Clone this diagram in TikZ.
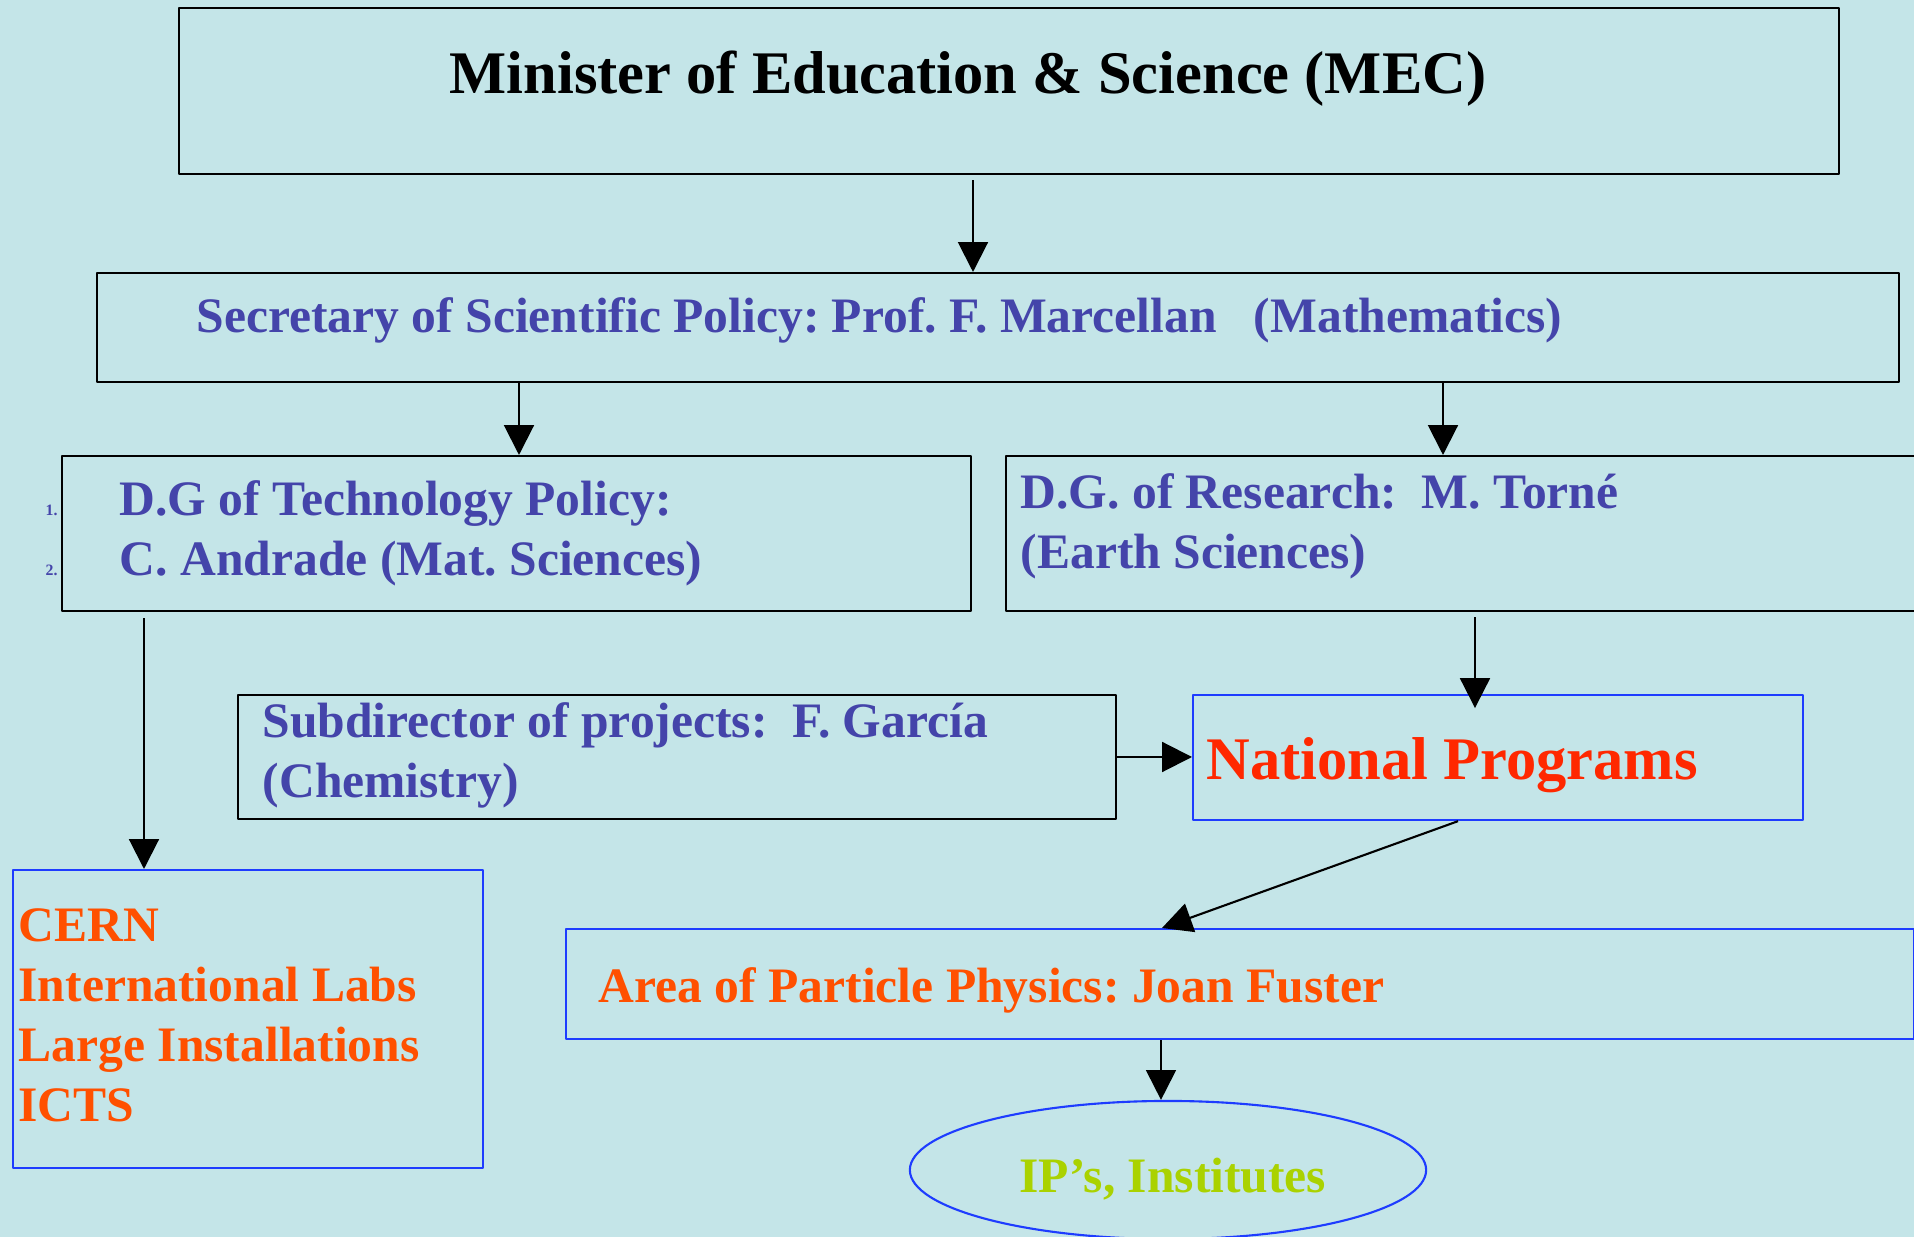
\documentclass[tikz,border=0pt]{standalone}
\usepackage{fontspec}
\setmainfont{Liberation Serif}
\usetikzlibrary{arrows.meta,shapes.geometric}

\definecolor{bgcyan}{RGB}{196,229,232}
\definecolor{frameblue}{RGB}{30,60,255}
\definecolor{txtblue}{RGB}{68,68,170}
\definecolor{txtred}{RGB}{255,40,0}
\definecolor{txtorange}{RGB}{255,80,0}
\definecolor{txtgreen}{RGB}{170,210,0}

\frenchspacing

\begin{document}
\begin{tikzpicture}[x=0.01cm, y=-0.01cm, line join=round,
  box/.style={draw, line width=0.6pt, inner sep=0pt, anchor=north west},
  bluebox/.style={box, draw=frameblue},
  txt/.style={anchor=base west, inner sep=0pt, align=left,
    font=\fontsize{14.1}{17.1}\selectfont\bfseries},
  arr/.style={-{Triangle[length=8.5pt, width=8.5pt]}, line width=0.6pt}]

  % Background
  \fill[bgcyan] (0,0) rectangle (1914,1237);
  \useasboundingbox (0,0) rectangle (1914,1237);

  % Boxes
  \node[box, minimum width=16.59cm, minimum height=1.66cm] (min) at (178,7) {};
  \node[box, minimum width=18.01cm, minimum height=1.09cm] (sec) at (96,272) {};
  \node[box, minimum width=9.08cm, minimum height=1.55cm] (tech) at (61,455) {};
  \node[box, minimum width=9.08cm, minimum height=1.55cm] (res) at (1005,455) {};
  \node[box, minimum width=8.77cm, minimum height=1.24cm] (sub) at (237,694) {};
  \node[bluebox, minimum width=6.10cm, minimum height=1.25cm] (nat) at (1192,694) {};
  \node[bluebox, minimum width=4.70cm, minimum height=2.98cm] (cern) at (12,869) {};
  \node[bluebox, minimum width=13.47cm, minimum height=1.10cm] (area) at (565,928) {};
  \node[ellipse, draw=frameblue, line width=0.6pt, inner sep=0pt,
    minimum width=5.16cm, minimum height=1.38cm] (ips) at (1168,1170) {};

  % Texts (multi-line ones sit on their last baseline)
  \node[txt, font=\fontsize{17.2}{20}\selectfont\bfseries] (mint) at (449,94)
    {Minister of Education \& Science (MEC)};
  \node[txt, text=txtblue] (sect) at (196,333)
    {Secretary of Scientific Policy: Prof. F. Marcellan\ \ \ (Mathematics)};
  \node[txt, text=txtblue] (techt) at (119,576)
    {D.G of Technology Policy:\\C. Andrade (Mat. Sciences)};
  \node[txt, text=txtblue, font=\fontsize{4.5}{5}\selectfont\bfseries] (num1) at (45,516) {1.};
  \node[txt, text=txtblue, font=\fontsize{4.5}{5}\selectfont\bfseries] (num2) at (45,576) {2.};
  \node[txt, text=txtblue] (rest) at (1020,569)
    {D.G. of Research:\ \ M. Torné\\(Earth Sciences)};
  \node[txt, text=txtblue] (subt) at (262,798)
    {Subdirector of projects:\ \ F. García\\(Chemistry)};
  \node[txt, text=txtred, font=\fontsize{17.2}{20}\selectfont\bfseries] (natt) at (1206,780)
    {National Programs};
  \node[txt, text=txtorange] (cernt) at (18,1122)
    {CERN\\International Labs\\Large Installations\\ICTS};
  \node[txt, text=txtorange] (areat) at (598,1003)
    {Area of Particle Physics: Joan Fuster};
  \node[txt, anchor=base, text=txtgreen, font=\fontsize{14.1}{16}\selectfont\bfseries] (ipst)
    at (1173,1193) {IP's, Institutes};

  % Arrows
  \draw[arr, shorten <=1.5pt] (min.south -| 973,0) -- (sec.north -| 973,0);
  \draw[arr] (sec.south -| 519,0) -- (tech.north -| 519,0);
  \draw[arr] (sec.south -| 1443,0) -- (res.north -| 1443,0);
  \draw[arr, shorten <=1.7pt] (tech.south -| 144,0) -- (cern.north -| 144,0);
  \draw[arr, shorten <=1.5pt, shorten >=-4pt] (res.south -| 1475,0) -- (nat.north -| 1475,0);
  \draw[arr] (sub.east |- 0,757) -- (nat.west |- 0,757);
  \draw[arr] (nat.south -| 1458,0) -- (area.north -| 1162,0);
  \draw[arr] (area.south -| 1161,0) -- (ips.north -| 1161,0);
\end{tikzpicture}
\end{document}
